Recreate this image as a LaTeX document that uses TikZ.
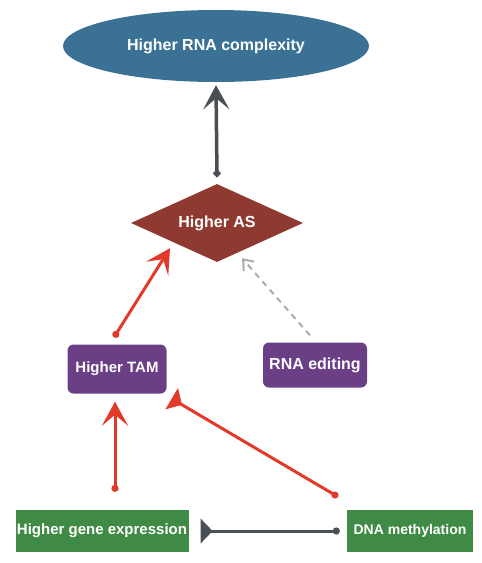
\documentclass[tikz,border=0pt]{standalone}
\usepackage{fontspec}
\setmainfont{Liberation Sans}
\usepackage{tikz}
\usetikzlibrary{arrows.meta,shapes.geometric}
\definecolor{rnablue}{RGB}{58,113,148}
\definecolor{asred}{RGB}{142,58,48}
\definecolor{tampurple}{RGB}{106,63,134}
\definecolor{causegreen}{RGB}{63,139,69}
\definecolor{actred}{RGB}{226,58,42}
\definecolor{darkgrey}{RGB}{74,79,85}
\definecolor{softgrey}{RGB}{168,174,176}

\begin{document}
\begin{tikzpicture}[x=1pt,y=-1pt,
    box/.style={text=white,font=\bfseries\fontsize{16}{18}\selectfont,inner sep=0pt},
    trait/.style={box,rectangle,rounded corners=6pt,fill=tampurple},
    cause/.style={box,rectangle,fill=causegreen},
    promote/.style={actred,line width=3pt,{Circle[length=7pt,width=7pt]}-{Stealth[length=24pt,width=26pt,inset=11pt]}},
    inhibit/.style={line width=3pt,{Circle[length=7pt,width=7pt]}-{Triangle[reversed,length=12pt,width=24pt]}}]
  \useasboundingbox (0,0) rectangle (482,563);
  % top and hub
  \node[box,ellipse,fill=rnablue,minimum width=306pt,minimum height=72pt] (rna) at (216,46) {Higher RNA complexity};
  \node[box,diamond,fill=asred,minimum width=172pt,minimum height=78pt,aspect=2.2] (as) at (217,223) {Higher AS};
  % middle layer
  \node[trait,minimum width=99pt,minimum height=49pt,font=\bfseries\fontsize{15}{17}\selectfont] (tam) at (117,369) {Higher TAM};
  \node[trait,minimum width=104pt,minimum height=45pt] (edit) at (315,365) {RNA editing};
  % bottom layer
  \node[cause,minimum width=173pt,minimum height=42pt,font=\bfseries\fontsize{15}{17}\selectfont] (gene) at (102,531) {Higher gene expression};
  \node[cause,minimum width=126pt,minimum height=42pt,font=\bfseries\fontsize{14}{16}\selectfont] (dna) at (410,531) {DNA methylation};
  % links
  \draw[promote,darkgrey,line width=3.5pt] ([yshift=7pt]as.north) -- ([yshift=-3pt]rna.south);
  \draw[promote] ([xshift=-3pt,yshift=7pt]tam.north) -- ([xshift=-47pt,yshift=14pt]as.south);
  \draw[softgrey,line width=2pt,dash pattern=on 6pt off 5pt,-{Straight Barb[length=9pt,width=14pt,line width=2pt]}] ([xshift=-5pt,yshift=7pt]edit.north) -- ([xshift=25pt,yshift=4pt]as.south);
  \draw[promote] ([xshift=13pt,yshift=18pt]gene.north) -- ([xshift=-2pt,yshift=-8pt]tam.south);
  \draw[inhibit,actred] ([xshift=-72pt,yshift=13pt]dna.north) -- ([xshift=5pt,yshift=-5pt]tam.south east);
  \draw[inhibit,darkgrey] ([xshift=-7pt]dna.west) -- ([xshift=12pt]gene.east);
\end{tikzpicture}
\end{document}
